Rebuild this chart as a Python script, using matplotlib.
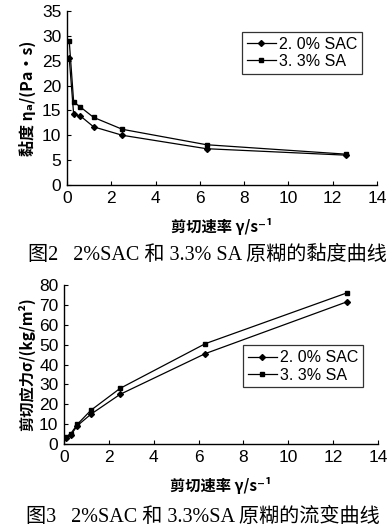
import numpy as np
import matplotlib
matplotlib.use('Agg')
from matplotlib import pyplot as plt

plt.rcParams['font.family'] = ['Liberation Sans', 'Noto Sans CJK SC', 'DejaVu Sans']

# shear rate, 1/s
shear_rate = [0.1, 0.3, 0.6, 1.2, 2.5, 6.3, 12.6]

# viscosity, Pa.s
visc_sac = [25.5, 14.2, 13.9, 11.7, 10.0, 7.3, 6.0]
visc_sa = [29.0, 16.7, 15.7, 13.6, 11.2, 8.1, 6.2]

# shear stress, kg/m2
stress_sac = [3.0, 4.5, 9.3, 15.0, 25.0, 45.5, 71.5]
stress_sa = [3.5, 5.2, 10.0, 17.0, 28.0, 50.5, 76.0]

labels = ['2. 0% SAC', '3. 3% SA']
x_ticks = [0, 2, 4, 6, 8, 10, 12, 14]
cjk_sans = ['Noto Sans CJK SC', 'DejaVu Sans']
cjk_serif = ['Liberation Serif', 'Noto Sans CJK SC']


def style_axes(ax, y_max, y_step):
    for s in ['top', 'right']:
        ax.spines[s].set_visible(False)
    for s in ['left', 'bottom']:
        ax.spines[s].set_linewidth(1.0)
    ax.set_xlim(0, 14)
    ax.set_ylim(0, y_max)
    ax.set_xticks(x_ticks)
    ax.set_yticks(np.arange(0, y_max + 1, y_step))
    ax.tick_params(direction='in', length=3, width=0.8, labelsize=12.5, pad=4)


def draw(ax, y1, y2, legend_loc):
    ax.plot(shear_rate, y1, color='black', lw=0.9, marker='D', ms=3, label=labels[0])
    ax.plot(shear_rate, y2, color='black', lw=0.9, marker='s', ms=3.5, label=labels[1])
    leg = ax.legend(loc='upper left', bbox_to_anchor=legend_loc, fontsize=11.5,
                    frameon=True, fancybox=False, edgecolor='black',
                    handlelength=1.8, handletextpad=0.2, borderpad=0.3,
                    labelspacing=0.15, borderaxespad=0)
    leg.get_frame().set_linewidth(0.9)


fig = plt.figure(figsize=(3.91, 5.31), dpi=100)

# viscosity curves
ax1 = fig.add_axes([0.1714, 0.6516, 0.7928, 0.3277])
draw(ax1, visc_sac, visc_sa, (0.565, 0.88))
style_axes(ax1, 35, 5)
ax1.set_ylabel('黏度 ηₐ/(Pa·s)', fontsize=11.5, labelpad=4, family=cjk_sans,
               fontweight='bold')
ax1.set_xlabel('剪切速率 γ/s⁻¹', fontsize=11, labelpad=9, family=cjk_sans,
               fontweight='bold')
fig.text(0.53, 0.519, '图2   2%SAC 和 3.3% SA 原糊的黏度曲线', ha='center', va='center',
         fontsize=14.5, family=cjk_serif)

# flow curves
ax2 = fig.add_axes([0.1637, 0.1638, 0.8031, 0.2994])
draw(ax2, stress_sac, stress_sa, (0.57, 0.62))
style_axes(ax2, 80, 10)
ax2.set_ylabel('剪切应力σ/(kg/m²)', fontsize=11, labelpad=3, family=cjk_sans,
               fontweight='bold')
ax2.set_xlabel('剪切速率 γ/s⁻¹', fontsize=11, labelpad=9, family=cjk_sans,
               fontweight='bold')
fig.text(0.52, 0.027, '图3   2%SAC 和 3.3%SA 原糊的流变曲线', ha='center', va='center',
         fontsize=14.5, family=cjk_serif)

fig.savefig('out.png', dpi=100)
